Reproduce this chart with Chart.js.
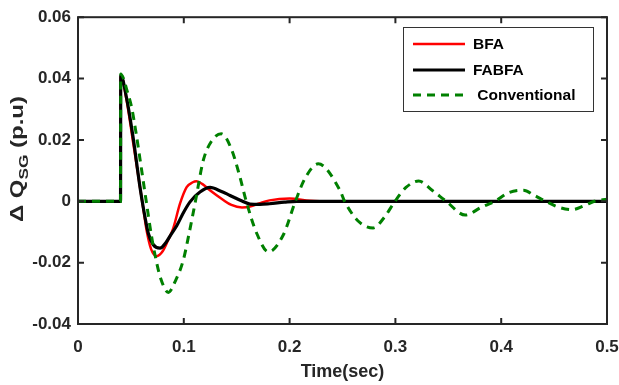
<!DOCTYPE html>
<html>

<head>
    <meta charset="utf-8">
    <title>ΔQsg response</title>
    <script src="https://cdn.jsdelivr.net/npm/chart.js"></script>
    <style>
        body { margin: 0; background: #fff; }
    </style>
</head>

<body>
    <canvas id="myChart" width="619" height="385"></canvas>
    <script>
    // reactive power deviation of the SG (p.u) against time (s)
    var tBFA = [0, 0.0402, 0.0404, 0.046, 0.052, 0.0575, 0.0617, 0.065, 0.069, 0.0744, 0.08, 0.085, 0.09, 0.0964, 0.1027,
        0.1085, 0.112, 0.118, 0.125, 0.137, 0.145, 0.155, 0.1626, 0.172, 0.181, 0.2, 0.219, 0.24, 0.5];
    var qBFA = [0, 0, 0.0412, 0.0328, 0.0194, 0.0071, -0.0024, -0.0098, -0.0155, -0.0179, -0.0163, -0.0128, -0.0088, -0.0008, 0.0046,
        0.0062, 0.0065, 0.0055, 0.0035, 0.0005, -0.0012, -0.002, -0.0017, -0.0006, 0.0003, 0.0009, 0.0002, 0, 0];

    var tFABFA = [0, 0.0402, 0.0404, 0.046, 0.052, 0.0586, 0.0617, 0.0665, 0.071, 0.0775, 0.083, 0.088, 0.0933, 0.1, 0.1059,
        0.1153, 0.1248, 0.135, 0.1437, 0.155, 0.1626, 0.172, 0.181, 0.195, 0.2067, 0.5];
    var qFABFA = [0, 0, 0.041, 0.0335, 0.021, 0.0046, -0.002, -0.0105, -0.0141, -0.0153, -0.0135, -0.0108, -0.008, -0.0035, -0.0002,
        0.003, 0.0045, 0.0033, 0.0019, 0.0001, -0.0009, -0.001, -0.0008, -0.0003, 0, 0];

    var tConv = [0, 0.0402, 0.0404, 0.043, 0.046, 0.0507, 0.055, 0.06, 0.0645, 0.0696, 0.0737, 0.078, 0.0854, 0.092, 0.0995,
        0.105, 0.111, 0.1184, 0.126, 0.1355, 0.145, 0.153, 0.159, 0.169, 0.18, 0.194, 0.2055, 0.2146, 0.227, 0.2476,
        0.252, 0.265, 0.279, 0.29, 0.2996, 0.31, 0.322, 0.335, 0.348, 0.366, 0.381, 0.394, 0.407, 0.421, 0.432,
        0.442, 0.455, 0.467, 0.478, 0.488, 0.5];
    var qConv = [0, 0, 0.0415, 0.040, 0.0365, 0.0306, 0.022, 0.0105, 0, -0.0116, -0.019, -0.025, -0.0297, -0.026, -0.0192,
        -0.0105, 0, 0.0133, 0.0195, 0.022, 0.017, 0.008, 0, -0.0105, -0.0165, -0.011, 0, 0.0075, 0.0122, 0.0036,
        0, -0.0065, -0.0087, -0.005, 0, 0.0045, 0.0066, 0.0035, 0, -0.0045, -0.002, 0, 0.0028, 0.0036, 0.0018,
        0, -0.002, -0.0027, -0.0015, 0, 0.0007];

    var seriesNames = ['BFA', 'FABFA', ' Conventional'];
    var xTicks = [0, 0.1, 0.2, 0.3, 0.4, 0.5];
    var xTickLabels = ['0', '0.1', '0.2', '0.3', '0.4', '0.5'];
    var yTicks = [-0.04, -0.02, 0, 0.02, 0.04, 0.06];
    var yTickLabels = ['-0.04', '-0.02', '0', '0.02', '0.04', '0.06'];

    function toPoints(t, q) {
        return t.map((x, i) => ({ x: x, y: q[i] }));
    }

    const FONT = '"Liberation Sans", Arial, sans-serif';
    const INK = '#262626';

    // box, inward ticks, legend and axis titles
    const framePlugin = {
        id: 'frame',
        afterDatasetsDraw(chart) {
            const ctx = chart.ctx;
            const a = chart.chartArea;
            const xs = chart.scales.x, ys = chart.scales.y;
            ctx.save();
            ctx.strokeStyle = INK;
            ctx.lineWidth = 2;
            ctx.strokeRect(a.left, a.top, a.right - a.left, a.bottom - a.top);
            ctx.beginPath();
            xTicks.forEach(v => {
                const px = xs.getPixelForValue(v);
                ctx.moveTo(px, a.bottom); ctx.lineTo(px, a.bottom - 6);
                ctx.moveTo(px, a.top); ctx.lineTo(px, a.top + 6);
            });
            yTicks.forEach(v => {
                const py = ys.getPixelForValue(v);
                ctx.moveTo(a.left, py); ctx.lineTo(a.left + 6, py);
                ctx.moveTo(a.right, py); ctx.lineTo(a.right - 6, py);
            });
            ctx.stroke();

            // legend
            ctx.fillStyle = '#fff';
            ctx.fillRect(403, 27, 190, 84);
            ctx.strokeStyle = '#333';
            ctx.lineWidth = 1;
            ctx.strokeRect(403.5, 27.5, 190, 84);
            const rows = [44, 70, 95];
            chart.data.datasets.forEach((ds, i) => {
                ctx.beginPath();
                ctx.strokeStyle = ds.borderColor;
                ctx.lineWidth = ds.borderWidth;
                ctx.setLineDash(ds.borderDash || []);
                ctx.moveTo(413, rows[i]); ctx.lineTo(465, rows[i]);
                ctx.stroke();
                ctx.setLineDash([]);
                ctx.fillStyle = '#000';
                ctx.font = 'bold 15.5px ' + FONT;
                ctx.textAlign = 'left';
                ctx.textBaseline = 'middle';
                ctx.fillText(ds.label, 473, rows[i] + 1);
            });

            // x axis title
            ctx.fillStyle = INK;
            ctx.font = 'bold 18px ' + FONT;
            ctx.textAlign = 'center';
            ctx.textBaseline = 'middle';
            ctx.fillText('Time(sec)', (a.left + a.right) / 2, 372);

            // y axis title with subscript, stretched along its baseline
            ctx.translate(18, 222);
            ctx.rotate(-Math.PI / 2);
            ctx.scale(1.33, 1);
            ctx.textAlign = 'left';
            ctx.font = 'bold 18px ' + FONT;
            let w = 0;
            ctx.fillText('Δ Q', w, 0);
            w += ctx.measureText('Δ Q').width;
            ctx.font = 'bold 13px ' + FONT;
            ctx.fillText('SG', w, 6);
            w += ctx.measureText('SG').width;
            ctx.font = 'bold 18px ' + FONT;
            ctx.fillText(' (p.u)', w, 0);
            ctx.restore();
        }
    };

    const ctx = document.getElementById('myChart').getContext('2d');
    const myChart = new Chart(ctx, {
        type: 'line',
        data: {
            datasets: [{
                label: seriesNames[0],
                data: toPoints(tBFA, qBFA),
                borderColor: '#ff0000',
                borderWidth: 2.5,
                order: 2
            }, {
                label: seriesNames[1],
                data: toPoints(tFABFA, qFABFA),
                borderColor: '#000000',
                borderWidth: 3.2,
                order: 1
            }, {
                label: seriesNames[2],
                data: toPoints(tConv, qConv),
                borderColor: '#008000',
                borderWidth: 3,
                borderDash: [8, 6],
                order: 0
            }]
        },
        options: {
            responsive: false,
            animation: false,
            layout: { padding: { top: 16, right: 0, left: 0, bottom: 0 } },
            elements: {
                point: { radius: 0 },
                line: { cubicInterpolationMode: 'monotone', fill: false, borderCapStyle: 'butt' }
            },
            plugins: {
                legend: { display: false },
                tooltip: { enabled: false }
            },
            scales: {
                x: {
                    type: 'linear',
                    min: 0,
                    max: 0.5,
                    afterFit: s => { s.height = 61; s.paddingRight = 12; },
                    afterBuildTicks: s => { s.ticks = xTicks.map(v => ({ value: v })); },
                    grid: { display: false, drawTicks: false },
                    border: { display: false },
                    ticks: {
                        padding: 13,
                        color: INK,
                        font: { family: FONT, size: 17, weight: 'bold' },
                        maxRotation: 0,
                        callback: (v, i) => xTickLabels[i]
                    }
                },
                y: {
                    type: 'linear',
                    min: -0.04,
                    max: 0.06,
                    afterFit: s => { s.width = 78; },
                    afterBuildTicks: s => { s.ticks = yTicks.map(v => ({ value: v })); },
                    grid: { display: false, drawTicks: false },
                    border: { display: false },
                    ticks: {
                        padding: 7,
                        color: INK,
                        font: { family: FONT, size: 17, weight: 'bold' },
                        callback: (v, i) => yTickLabels[i]
                    }
                }
            }
        },
        plugins: [framePlugin]
    });
    </script>
</body>

</html>
